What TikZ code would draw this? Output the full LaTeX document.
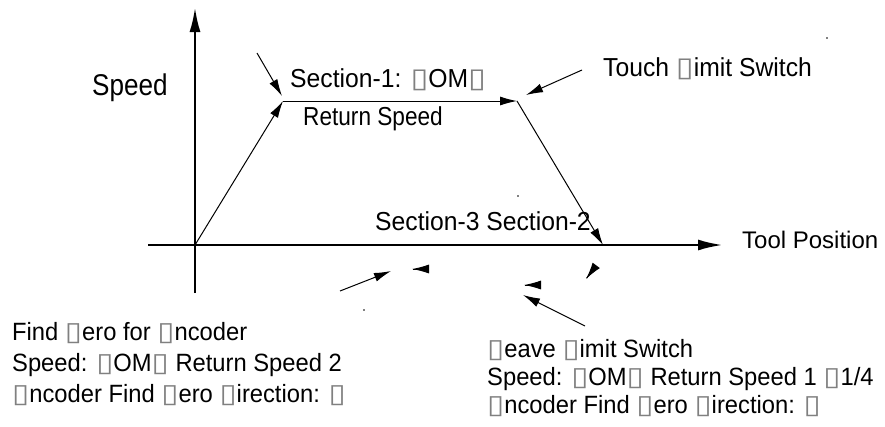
\documentclass[tikz,border=0pt]{standalone}
\usepackage{graphicx}
\usepackage{fontspec}
\setmainfont{Liberation Sans}
\newfontfamily\narrowfont[FakeStretch=0.87]{Liberation Sans}
\newfontfamily\notefont[FakeStretch=0.95]{Liberation Sans}
\newfontfamily\tofufont{DejaVu Sans}
\usetikzlibrary{arrows.meta}
\newcommand{\tofu}{{\tofufont\color{black!50}\scalebox{1.25}[1.05]{▯}}}

\begin{document}
\begin{tikzpicture}[
    x=1pt, y=-1pt,
    axis/.style={draw=black, line width=2.7pt, -{Latex[length=25pt, width=11pt]}},
    curve/.style={draw=black, line width=1pt, -{Latex[length=17pt, width=9pt]}},
    pointer/.style={draw=black, line width=1pt, -{Latex[length=17pt, width=9pt]}},
    label/.style={inner sep=0pt, anchor=base west, font=\fontsize{26}{30}\selectfont\notefont},
    note/.style={inner sep=0pt, anchor=base west, font=\fontsize{25}{30}\selectfont\notefont},
    speck/.style={fill=black, circle, inner sep=0pt, minimum size=1.6pt}
]
\useasboundingbox (0,0) rectangle (885,426);

% --- Axes ---
\coordinate (O)      at (195,245);
\coordinate (yTop)   at (195,7);
\coordinate (yBot)   at (195,293);
\coordinate (xLeft)  at (148,245);
\coordinate (xRight) at (723,245);

\draw[axis] (yBot) -- (yTop);
\draw[axis] (xLeft) -- (xRight);

\node[label, font=\fontsize{30}{34}\selectfont\narrowfont] (speed) at (92,95) {Speed};
\node[label, font=\fontsize{24}{28}\selectfont] (tool) at (742,248) {Tool Position};

% --- Speed profile: ramp up, plateau, ramp down ---
\coordinate (A) at (283,101);
\coordinate (B) at (517,101);
\coordinate (C) at (603,245);

\draw[curve] (O) -- (A);
\draw[curve] (A) -- (B);
\draw[curve] (B) -- (C);

\node[label] (sec1) at (290,87) {Section-1: \tofu OM\tofu};
\node[label, font=\fontsize{26}{30}\selectfont\narrowfont] (ret) at (303,125) {Return Speed};
\node[label] (touch) at (603,76) {Touch \tofu imit Switch};
\node[label] (secs) at (375,230) {Section-3 Section-2};

% --- Pointers ---
\coordinate (p1s) at (257,53);  \coordinate (p1e) at (282,96);
\coordinate (p2s) at (582,70);  \coordinate (p2e) at (526,95);
\coordinate (p3s) at (340,291); \coordinate (p3e) at (391,271);
\coordinate (p4s) at (585,326); \coordinate (p4e) at (523,295);

\draw[pointer] (p1s) -- (p1e);
\draw[pointer] (p2s) -- (p2e);
\draw[pointer] (p3s) -- (p3e);
\draw[pointer] (p4s) -- (p4e);

% loose arrow heads
\coordinate (h1b) at (413,269);   \coordinate (h1) at (412,269);
\coordinate (h2b) at (525,285);   \coordinate (h2) at (524,285);
\coordinate (h3b) at (586.6,278.2); \coordinate (h3) at (586,279);

\draw[pointer] (h1b) -- (h1);
\draw[pointer] (h2b) -- (h2);
\draw[pointer] (h3b) -- (h3);

% stray specks
\node[speck] (s1) at (827,38) {};
\node[speck] (s2) at (518,196) {};
\node[speck] (s3) at (364,310) {};

% --- Notes below the axis ---
\node[note] (find1) at (12,340) {Find \tofu ero for \tofu ncoder};
\node[note] (find2) at (12,371) {Speed: \tofu OM\tofu\ Return Speed 2};
\node[note] (find3) at (12,402) {\tofu ncoder Find \tofu ero \tofu irection: \tofu};

\node[note] (leave1) at (487,357) {\tofu eave \tofu imit Switch};
\node[note] (leave2) at (487,385) {Speed: \tofu OM\tofu\ Return Speed 1 \tofu 1/4};
\node[note] (leave3) at (487,413) {\tofu ncoder Find \tofu ero \tofu irection: \tofu};

\end{tikzpicture}
\end{document}
